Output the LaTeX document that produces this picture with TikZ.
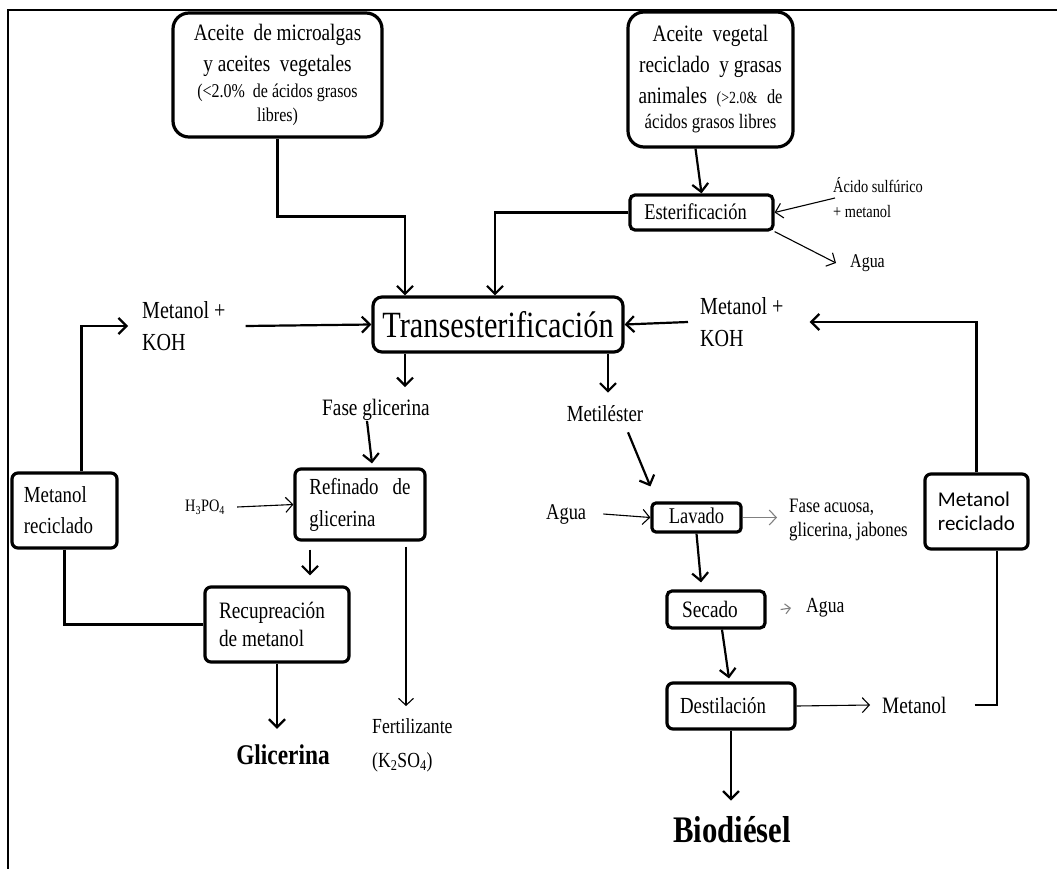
\documentclass[tikz,border=0pt]{standalone}
\usepackage{fontspec}
\setmainfont[FakeStretch=0.82]{Liberation Serif}
\newfontfamily\boxsans{Carlito}
\usetikzlibrary{arrows.meta}
\newcommand\fsz[2]{\fontsize{#1}{#2}\selectfont}

\begin{document}
\begin{tikzpicture}[x=1pt, y=-1pt,
  every node/.style={inner sep=0pt},
  box/.style={draw, line width=3.2pt, rounded corners=6pt, align=center},
  bigbox/.style={box, rounded corners=16pt},
  lbl/.style={align=left},
  ln/.style={line width=2.2pt},
  arr/.style={line width=2.2pt, -{Straight Barb[length=8pt,width=16pt,line width=2.2pt]}},
  tarr/.style={line width=1.1pt, -{Straight Barb[length=7pt,width=15pt,line width=1.1pt]}},
  sarr/.style={line width=1.1pt, -{Straight Barb[length=5pt,width=10pt,line width=1.1pt]}},
]
\useasboundingbox (0,0) rectangle (1057,869);

% frame
\draw[line width=1.8pt] (8,869) -- (8,10) -- (1057,10);

% feedstock boxes
\node[bigbox, minimum width=209pt, minimum height=124pt, font=\fsz{23.5}{31}]
  (A) at (277.5,75) {Aceite \ de microalgas\\ y aceites \ vegetales\\[-5pt]
  {\fsz{19.5}{24}(<2.0\% \ de ácidos grasos}\\[-7pt] {\fsz{19.5}{24}libres)}};
\node[bigbox, minimum width=165pt, minimum height=135pt, font=\fsz{23.5}{31}]
  (B) at (710.5,79.5) {Aceite \ vegetal\\ reciclado \ y grasas\\
  animales \ {\fsz{17}{20}(>2.0\&} \ {\fsz{20}{24}de}\\[-6pt]
  {\fsz{20.5}{24}ácidos grasos libres}};

% process boxes
\node[box, rounded corners=5pt, minimum width=143pt, minimum height=35pt, font=\fsz{22.5}{26}]
  (E) at (701.5,212.5) {\hspace*{-12pt}\raisebox{1pt}{Esterificación}};
\node[box, rounded corners=9pt, minimum width=250pt, minimum height=55pt, font=\fsz{37}{40}]
  (T) at (498,324.5) {Transesterificación};
\node[box, minimum width=130pt, minimum height=71pt, font=\fsz{23}{32}, align=left]
  (R) at (360,504.5) {Refinado \ \ de\\ glicerina};
\node[box, minimum width=105pt, minimum height=75pt, font=\fsz{23}{31}, align=left]
  (ML) at (64.5,510.5) {\hspace*{-12pt}Metanol\\ \hspace*{-12pt}reciclado};
\node[box, minimum width=144pt, minimum height=75pt, font=\fsz{23.5}{28}, align=left]
  (RM) at (277,624.5) {\hspace*{-10pt}Recupreación\\ \hspace*{-10pt}de metanol};
\node[box, rounded corners=4pt, minimum width=89pt, minimum height=29pt, font=\fsz{22.5}{26}]
  (L) at (696.5,517.5) {\raisebox{4pt}{Lavado}};
\node[box, minimum width=103pt, minimum height=75pt, font=\boxsans\fsz{21}{23.5}, align=left]
  (MR) at (976.5,511.5) {Metanol\\ reciclado};
\node[box, rounded corners=5pt, minimum width=98pt, minimum height=37pt, font=\fsz{23.5}{26}]
  (S) at (716,609.5) {\hspace*{-12pt}Secado};
\node[box, rounded corners=6pt, minimum width=128pt, minimum height=46pt, font=\fsz{23}{26}]
  (D) at (731,706) {\hspace*{-16pt}Destilación};

% stream labels
\node[lbl, anchor=west, font=\fsz{24.5}{32}] (KL) at (142,326) {Metanol +\\ KOH};
\node[lbl, anchor=west, font=\fsz{24.5}{32}] (KR) at (700,322) {Metanol +\\ KOH};
\node[lbl, anchor=west, font=\fsz{17.5}{25}] (AS) at (833,198) {Ácido sulfúrico\\ + metanol};
\node[anchor=west, font=\fsz{19.5}{22}] (W1) at (850,263) {Agua};
\node[font=\fsz{23.5}{26}] (FG) at (376,410) {Fase glicerina};
\node[font=\fsz{23}{26}] (ME) at (605,414) {Metiléster};
\node[anchor=west, font=\fsz{17.5}{20}] (H) at (185,507) {H\textsubscript{3}PO\textsubscript{4}};
\node[lbl, anchor=west, font=\fsz{21.5}{34}] (F) at (372,745) {Fertilizante\\ (K\textsubscript{2}SO\textsubscript{4})};
\node[font=\bfseries\fsz{28.5}{32}] (G) at (283,755) {Glicerina};
\node[anchor=west, font=\fsz{22.5}{26}] (W2) at (546,514) {Agua};
\node[lbl, anchor=west, font=\fsz{20.5}{24}] (FA) at (789,520) {Fase acuosa,\\ glicerina, jabones};
\node[anchor=west, font=\fsz{21.5}{24}] (W3) at (806,608) {Agua};
\node[anchor=west, font=\fsz{23.5}{26}] (MB) at (882,705) {Metanol};
\node[font=\bfseries\fsz{37.5}{40}] (BD) at (732,830) {Biodiésel};

% feed lines into transesterification
\draw[arr] (A.south) -- ++(0,78) -| ([xshift=-93pt]T.north);
\draw[arr] ([xshift=-15pt]B.south) -- (E.north);
\draw[arr] (E.west) -| ([xshift=-3pt]T.north);
\draw[tarr] ([xshift=2pt]AS.west) -- (E.east);
\draw[tarr] (E.south east) -- ([xshift=-14pt]W1.west);
\draw[arr] ([xshift=20pt]KL.east) -- (T.west);
\draw[arr] ([xshift=-12pt]KR.west) -- (T.east);

% methanol recycle loops
\draw[arr] ([xshift=17pt]ML.north) |- ([xshift=-14pt]KL.west);
\draw[arr] (MR.north) |- ([xshift=26pt]KR.east);

% glycerine branch
\draw[arr, shorten >=12pt] ([xshift=-93pt]T.south) -- ([xshift=-93pt]T.south |- FG.north);
\draw[arr] ([xshift=-9pt]FG.south) -- ([xshift=12pt, yshift=4pt]R.north);
\draw[tarr] ([xshift=12pt]H.east) -- (R.west);
\draw[arr, shorten <=8pt, shorten >=10pt] ([xshift=-50pt]R.south) -- ([xshift=-50pt]R.south |- RM.north);
\draw[ln] (ML.south) |- (RM.west);
\draw[arr, shorten >=16pt] (RM.south) -- (RM.south |- G.north);
\draw[tarr, shorten <=5pt, shorten >=12pt] ([xshift=46pt]R.south) -- ([xshift=46pt]R.south |- F.north);

% methyl ester branch
\draw[arr, shorten >=13pt] ([xshift=110pt]T.south) -- ([xshift=110pt]T.south |- ME.north);
\draw[arr] ([xshift=23pt, yshift=-10pt]ME.south) -- ([yshift=15pt]L.north west);
\draw[tarr] ([xshift=17pt]W2.east) -- (L.west);
\draw[tarr, gray, shorten >=12pt] (L.east) -- (L.east -| FA.west);
\draw[arr] (L.south) -- ([xshift=-15pt, yshift=7pt]S.north);
\draw[sarr, gray] ([xshift=14pt]S.east) -- ([xshift=-15pt]W3.west);
\draw[arr] ([xshift=6pt]S.south) -- ([xshift=-2pt, yshift=3pt]D.north);
\draw[tarr] (D.east) -- ([xshift=-12pt]MB.west);
\draw[ln] ([xshift=28pt]MB.east) -| ([xshift=20.5pt]MR.south);
\draw[arr, shorten >=16pt] (D.south) -- (D.south |- BD.north);
\end{tikzpicture}
\end{document}
